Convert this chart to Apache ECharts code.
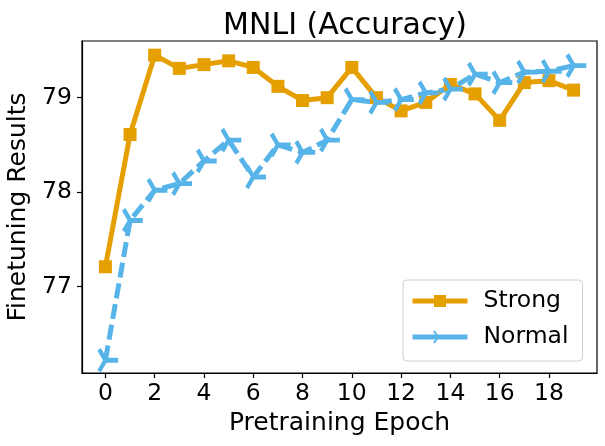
<!DOCTYPE html>
<html>
<head>
<meta charset="utf-8">
<script src="https://cdn.jsdelivr.net/npm/echarts@6/dist/echarts.min.js"></script>
<style>
  html, body { margin: 0; padding: 0; background: #fff; }
  #chart { width: 605px; height: 446px; }
</style>
</head>
<body>
<div id="chart"></div>
<script>
// epochs on the x axis
var epochs = [0, 1, 2, 3, 4, 5, 6, 7, 8, 9, 10, 11, 12, 13, 14, 15, 16, 17, 18, 19];
var strongAcc = [77.21, 78.61, 79.45, 79.31, 79.35, 79.39, 79.32, 79.12, 78.97, 79.0,
                 79.32, 79.0, 78.86, 78.95, 79.14, 79.04, 78.76, 79.16, 79.18, 79.08];
var normalAcc = [76.22, 77.70, 78.02, 78.09, 78.33, 78.55, 78.16, 78.50, 78.42, 78.55,
                 78.98, 78.95, 78.98, 79.05, 79.09, 79.25, 79.16, 79.27, 79.28, 79.34];
var xTicks = [0, 2, 4, 6, 8, 10, 12, 14, 16, 18];
var yTicks = [77, 78, 79];

var orange = '#E69F00';
var blue = '#56B4E9';
var font = 'DejaVu Sans';

// tri_right marker (three arms, one pointing right)
var triRight = 'path://M0,0 L1,0 M0,0 L-0.5,-0.866 M0,0 L-0.5,0.866';

function pairs(xs, ys) {
  var out = [];
  for (var i = 0; i < xs.length; i++) out.push([xs[i], ys[i]]);
  return out;
}

var chart = echarts.init(document.getElementById('chart'));
chart.setOption({
  animation: false,
  backgroundColor: '#fff',
  title: {
    text: 'MNLI (Accuracy)',
    left: 340, top: 6, textAlign: 'center',
    textStyle: { fontFamily: font, fontSize: 30, fontWeight: 'normal', color: '#000' }
  },
  grid: {
    left: 82, right: 8, top: 41, bottom: 73,
    outerBoundsMode: 'none',
    show: true, borderColor: '#000', borderWidth: 1.2, backgroundColor: 'transparent'
  },
  legend: {
    left: 403, top: 280,
    orient: 'vertical',
    padding: [9, 14, 12, 7],
    itemGap: 12,
    itemWidth: 55, itemHeight: 15,
    borderColor: '#d0d0d0', borderWidth: 1, borderRadius: 4,
    lineStyle: { width: 5, type: 'solid' },
    textStyle: { fontFamily: font, fontSize: 23.5, color: '#000', padding: [0, 0, 0, 11] },
    data: ['Strong', 'Normal']
  },
  xAxis: {
    type: 'value', min: -0.95, max: 19.95,
    name: 'Pretraining Epoch', nameLocation: 'middle', nameGap: 38,
    nameTextStyle: { fontFamily: font, fontSize: 25, color: '#000' },
    splitLine: { show: false },
    axisLine: { show: true, onZero: false, lineStyle: { color: '#000', width: 1.2 } },
    axisTick: { show: true, length: 5, lineStyle: { color: '#000', width: 1.2 }, customValues: xTicks },
    axisLabel: { fontFamily: font, fontSize: 23.5, color: '#000', margin: 9, customValues: xTicks }
  },
  yAxis: {
    type: 'value', min: 76.085, max: 79.6,
    name: 'Finetuning Results', nameLocation: 'middle', nameGap: 48,
    nameTextStyle: { fontFamily: font, fontSize: 25, color: '#000' },
    splitLine: { show: false },
    axisLine: { show: true, onZero: false, lineStyle: { color: '#000', width: 1.2 } },
    axisTick: { show: true, length: 5, lineStyle: { color: '#000', width: 1.2 }, customValues: yTicks },
    axisLabel: { fontFamily: font, fontSize: 23.5, color: '#000', margin: 10, customValues: yTicks }
  },
  series: [
    {
      name: 'Strong', type: 'line',
      data: pairs(epochs, strongAcc),
      symbol: 'rect', symbolSize: 13,
      lineStyle: { color: orange, width: 5 },
      itemStyle: { color: orange }
    },
    {
      name: 'Normal', type: 'line',
      data: pairs(epochs, normalAcc),
      symbol: triRight, symbolSize: [19, 22], symbolOffset: [3.2, 0],
      lineStyle: { color: blue, width: 5, type: [15, 6] },
      itemStyle: { color: 'none', borderColor: blue, borderWidth: 4.5 }
    }
  ]
});
</script>
</body>
</html>
